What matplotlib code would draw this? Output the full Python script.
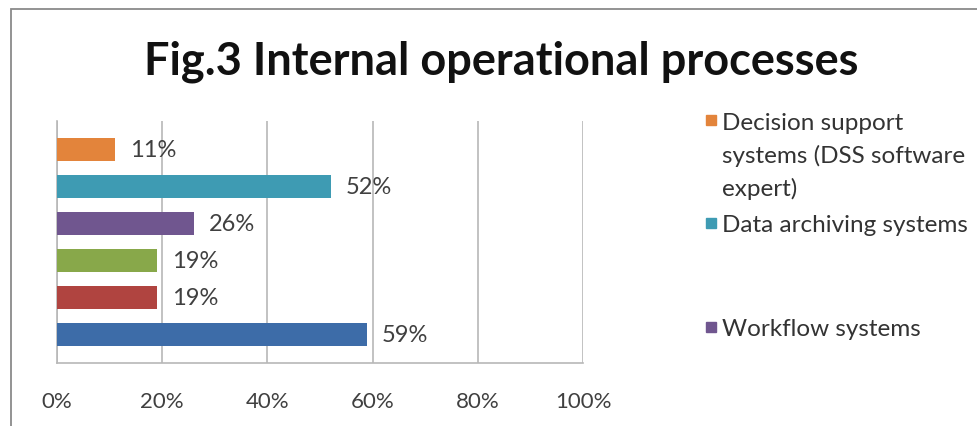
import matplotlib.pyplot as plt
from matplotlib.patches import Rectangle
from matplotlib.ticker import PercentFormatter

plt.rcParams['font.family'] = ['Lato', 'DejaVu Sans']

# bars from bottom to top
values = [59, 19, 19, 26, 52, 11]
colors = ['#3D6CA8', '#B04440', '#88A84A', '#70568F', '#3E9BB3', '#E3843B']

# legend (only the first three entries are visible in the picture)
legend_labels = ['Decision support\nsystems (DSS software\nexpert)',
                 'Data archiving systems',
                 'Workflow systems']
legend_colors = ['#E3843B', '#3E9BB3', '#70568F']
xticks = [0, 20, 40, 60, 80, 100]

title = 'Fig.3 Internal operational processes'

fig = plt.figure(figsize=(9.78, 4.27), dpi=100)
ax = fig.add_axes([57 / 978, 1 - 364 / 427, 526 / 978, 242 / 427])

pos = list(range(len(values)))
ax.barh(pos, values, height=0.62, color=colors, zorder=3)
for y, v in zip(pos, values):
    ax.text(v + 2.8, y, f'{v}%', va='center', ha='left', fontsize=17,
            color='#404040', zorder=4)

ax.set_xlim(0, 100)
ax.set_ylim(-0.77, 5.77)
ax.set_xticks(xticks)
ax.xaxis.set_major_formatter(PercentFormatter(decimals=0))
ax.set_yticks([])
ax.tick_params(axis='x', length=0, pad=20, labelsize=16, labelcolor='#404040')
ax.grid(axis='x', color='#b8b8b8', lw=1.2, zorder=0)
for s in ['top', 'right']:
    ax.spines[s].set_visible(False)
for s in ['left', 'bottom']:
    ax.spines[s].set_color('#b8b8b8')
    ax.spines[s].set_linewidth(1.2)

fig.text(501 / 978, 1 - 62 / 427, title, ha='center', va='center',
         fontsize=32.5, fontweight='bold', color='#111111')

# legend drawn by hand, Excel-style spacing
leg_y = [121, 224, 328]
line_gap = 33
for lab, c, y in zip(legend_labels, legend_colors, leg_y):
    fig.add_artist(Rectangle((706 / 978, 1 - (y + 5) / 427), 10 / 978, 10 / 427,
                             transform=fig.transFigure, color=c))
    for i, line in enumerate(lab.split('\n')):
        fig.text(722 / 978, 1 - (y + i * line_gap) / 427, line, ha='left',
                 va='center_baseline', fontsize=17.5, color='#333333')

# frame of the screenshot
fig.add_artist(Rectangle((11 / 978, -0.1), 2, 1.1 - 9.5 / 427, transform=fig.transFigure,
                         fill=False, edgecolor='#8a8a8a', lw=1.3))

fig.savefig('out.png', dpi=100)
